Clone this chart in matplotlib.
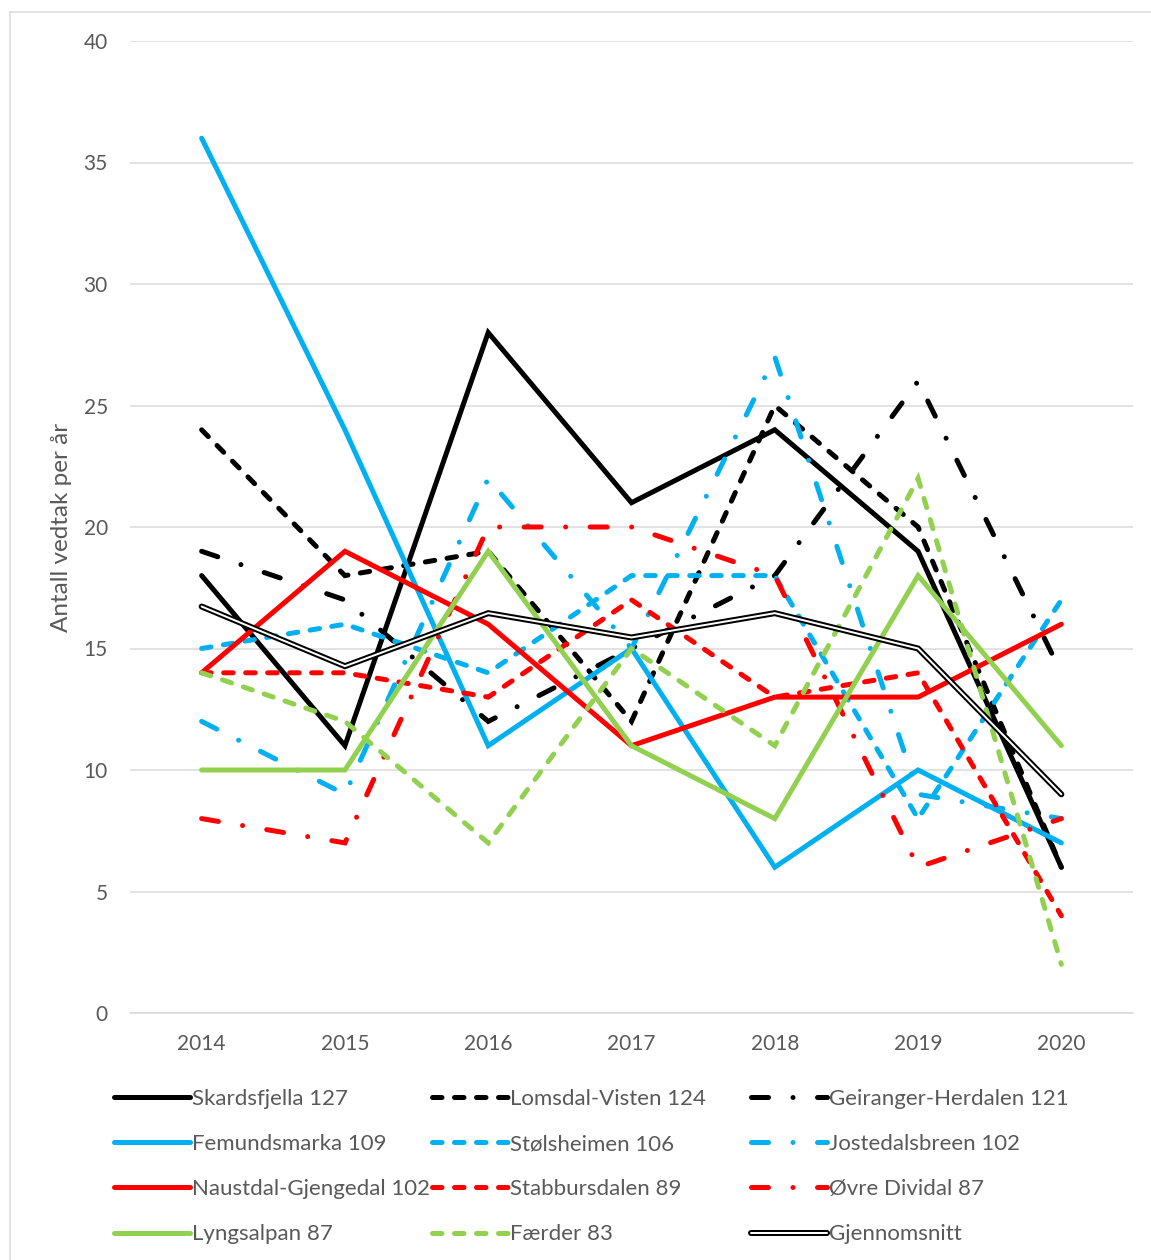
import matplotlib
matplotlib.use("Agg")
import matplotlib.pyplot as plt
from matplotlib.lines import Line2D

plt.rcParams['font.family'] = ['Lato', 'DejaVu Sans']
plt.rcParams['lines.scale_dashes'] = False

years = ['2014', '2015', '2016', '2017', '2018', '2019', '2020']

skardsfjella = [18, 11, 28, 21, 24, 19, 6]
lomsdal_visten = [24, 18, 19, 12, 25, 20, 6]
geiranger_herdalen = [19, 17, 12, 15, 18, 26, 14]
femundsmarka = [36, 24, 11, 15, 6, 10, 7]
stolsheimen = [15, 16, 14, 18, 18, 8, 17]
jostedalsbreen = [12, 9, 22, 15, 27, 9, 8]
naustdal_gjengedal = [14, 19, 16, 11, 13, 13, 16]
stabbursdalen = [14, 14, 13, 17, 13, 14, 4]
ovre_dividal = [8, 7, 20, 20, 18, 6, 8]
lyngsalpan = [10, 10, 19, 11, 8, 18, 11]
faerder = [14, 12, 7, 15, 11, 22, 2]

series_names = ['Skardsfjella', 'Lomsdal-Visten', 'Geiranger-Herdalen',
                'Femundsmarka', 'Stølsheimen', 'Jostedalsbreen',
                'Naustdal-Gjengedal', 'Stabbursdalen', 'Øvre Dividal',
                'Lyngsalpan', 'Færder']
series_values = [skardsfjella, lomsdal_visten, geiranger_herdalen,
                 femundsmarka, stolsheimen, jostedalsbreen,
                 naustdal_gjengedal, stabbursdalen, ovre_dividal,
                 lyngsalpan, faerder]
average_label = 'Gjennomsnitt'

BLACK = '#000000'
BLUE = '#00B0F0'
RED = '#FF0000'
GREEN = '#92D050'
colors = [BLACK, BLACK, BLACK, BLUE, BLUE, BLUE, RED, RED, RED, GREEN, GREEN]

PX = 72 / 100.0  # points per pixel
LW = 5 * PX
solid = (0, ())
dashed = (0, (9.5 * PX, 12.5 * PX))
dashdot = (0, (17 * PX, 24.5 * PX, 0.01, 24.5 * PX))
styles = [solid, dashed, dashdot] * 3 + [solid, dashed]

W, H = 1151, 1260
fig = plt.figure(figsize=(W / 100, H / 100), dpi=100)
ax = fig.add_axes([130 / W, 1 - 1013 / H, (1133 - 130) / W, (1013 - 41) / H])

x = list(range(len(years)))
handles = []
for name, vals, c, ls in zip(series_names, series_values, colors, styles):
    total = sum(vals)
    ln, = ax.plot(x, vals, color=c, lw=LW, linestyle=ls,
                  solid_capstyle='round', dash_capstyle='round',
                  solid_joinstyle='miter', dash_joinstyle='miter',
                  label=f'{name} {total}', zorder=3)
    handles.append(ln)

avg = [sum(v[i] for v in series_values) / len(series_values) for i in range(len(years))]
l_outer, = ax.plot(x, avg, color=BLACK, lw=6 * PX, solid_capstyle='round',
                   solid_joinstyle='miter', zorder=4)
l_inner, = ax.plot(x, avg, color='white', lw=2 * PX, solid_capstyle='round',
                   solid_joinstyle='miter', zorder=5)

ax.set_xlim(-0.5, len(years) - 0.5)
ax.set_ylim(0, 40)
ax.set_yticks(range(0, 41, 5))
ax.set_xticks(x)
ax.set_xticklabels(years)
ax.grid(axis='y', color='#d9d9d9', lw=1.5 * PX, zorder=0)
ax.set_axisbelow(True)
for s in ['top', 'right', 'left']:
    ax.spines[s].set_visible(False)
ax.spines['bottom'].set_color('#d9d9d9')
ax.spines['bottom'].set_linewidth(1.5 * PX)
ax.tick_params(axis='both', length=0, labelsize=15, labelcolor='#595959')
ax.tick_params(axis='y', pad=16)
ax.tick_params(axis='x', pad=15)

ax.set_ylabel('Antall vedtak per år', fontsize=17.5, color='#595959')
ax.yaxis.label.set_verticalalignment('center')
ax.yaxis.set_label_coords((61 - 130) / (1133 - 130), 0.5)

# legend: three columns, row-major order as in the reference
labels = [h.get_label() for h in handles]
all_handles = handles + [(l_outer, l_inner)]
all_labels = labels + [average_label]
col_x = [114, 432, 751]
for ci in range(3):
    hs = [all_handles[r * 3 + ci] for r in range(4)]
    ls_ = [all_labels[r * 3 + ci] for r in range(4)]
    leg = fig.legend(hs, ls_, loc='upper left',
                     bbox_to_anchor=(col_x[ci] / W, 1 - 1089 / H),
                     frameon=False, fontsize=16, labelcolor='#595959',
                     handlelength=3.4, handletextpad=0.1, labelspacing=1.13,
                     borderpad=0, borderaxespad=0)

# chart frame (left and top edges visible)
fig.add_artist(Line2D([10 / W, 10 / W], [0, 1 - 12 / H], transform=fig.transFigure,
                      color='#d9d9d9', lw=1.5 * PX))
fig.add_artist(Line2D([10 / W, 1], [1 - 12 / H, 1 - 12 / H], transform=fig.transFigure,
                      color='#d9d9d9', lw=1.5 * PX))

fig.savefig('out.png', dpi=100)
